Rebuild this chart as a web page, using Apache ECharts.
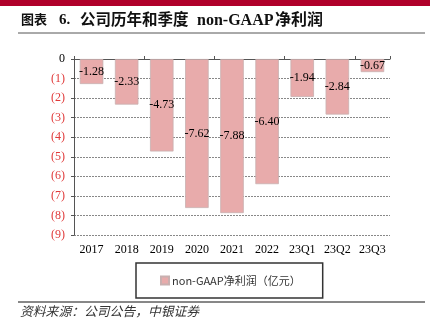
<!DOCTYPE html>
<html><head><meta charset="utf-8">
<script src="https://cdn.jsdelivr.net/npm/echarts@6/dist/echarts.min.js"></script>
<style>html,body{margin:0;padding:0;background:#fff}#c{width:439px;height:335px}</style>
</head><body><div id="c"></div>
<script>
var categories = ['2017','2018','2019','2020','2021','2022','23Q1','23Q2','23Q3'];
var values = [-1.28, -2.33, -4.73, -7.62, -7.88, -6.40, -1.94, -2.84, -0.67];
var seriesName = 'non-GAAP净利润（亿元）';
var titleParts = ['图表', '6.', '公司历年和季度', 'non-GAAP', '净利润'];
var sourceText = '资料来源：公司公告，中银证券';

var chart = echarts.init(document.getElementById('c'), null, {renderer:'canvas'});
var serif = "'Liberation Serif','Times New Roman',serif";
var tx = [21, 59, 80, 197, 275];
var tsize = [13, 15, 15.5, 16, 16];
var graphics = [
  {type:'rect', shape:{x:0, y:0, width:430, height:6}, style:{fill:'#B0002A'}},
  {type:'line', shape:{x1:18, y1:33, x2:425, y2:33}, style:{stroke:'#555', lineWidth:1}},
  {type:'line', shape:{x1:18, y1:302, x2:425, y2:302}, style:{stroke:'#111', lineWidth:1}},
  {type:'text', left:20, top:305, style:{text:sourceText, font:"italic 12.8px 'Noto Sans CJK SC',sans-serif", fill:'#333'}}
];
titleParts.forEach(function(t, i){
  graphics.push({type:'text', x:tx[i], y:20.5, style:{text:t, verticalAlign:'middle',
    font:'bold ' + tsize[i] + "px 'Liberation Serif','Noto Sans CJK SC',serif", fill:'#111'}});
});
chart.setOption({
  animation:false,
  grid:{left:74, top:59, width:316, height:176},
  legend:{
    data:[seriesName], left:136, top:263,
    itemWidth:8, itemHeight:8, itemGap:0,
    padding:[12,22,12,24],
    borderColor:'#333', borderWidth:1.5,
    textStyle:{fontFamily:"'Noto Sans CJK SC',sans-serif", fontSize:11, color:'#333', padding:[0,0,0,-2]},
    icon:'rect'
  },
  xAxis:[{
    type:'category', data:categories, position:'top',
    axisLine:{onZero:false, lineStyle:{color:'#555', width:1}},
    axisTick:{show:true, length:3, inside:false, lineStyle:{color:'#555'}},
    axisLabel:{show:false}
  },{
    type:'category', data:categories, position:'bottom',
    axisLine:{show:false}, axisTick:{show:false},
    axisLabel:{fontFamily:serif, fontSize:12, color:'#000', margin:9}
  }],
  yAxis:{
    type:'value', min:-9, max:0, interval:1,
    axisLine:{show:true, lineStyle:{color:'#555'}},
    axisTick:{show:true, length:3, lineStyle:{color:'#555'}},
    splitLine:{lineStyle:{color:'#888', type:[2,1], width:1}},
    axisLabel:{
      margin:9, fontFamily:serif, fontSize:12,
      formatter:function(v){ return v===0 ? '{z|0}' : '{r|(' + Math.abs(v) + ')}'; },
      rich:{z:{color:'#000', fontFamily:serif, fontSize:12}, r:{color:'#e03a3a', fontFamily:serif, fontSize:12}}
    }
  },
  series:[{
    name:seriesName, type:'bar', data:values, xAxisIndex:0,
    barCategoryGap:'33%',
    itemStyle:{color:'#E8ABAB', borderColor:'#C8B0B0', borderWidth:0.8},
    label:{show:true, position:'inside', color:'#000', fontFamily:serif, fontSize:12,
      formatter:function(p){ return p.value.toFixed(2); }}
  }],
  graphic:graphics
});
</script></body></html>
